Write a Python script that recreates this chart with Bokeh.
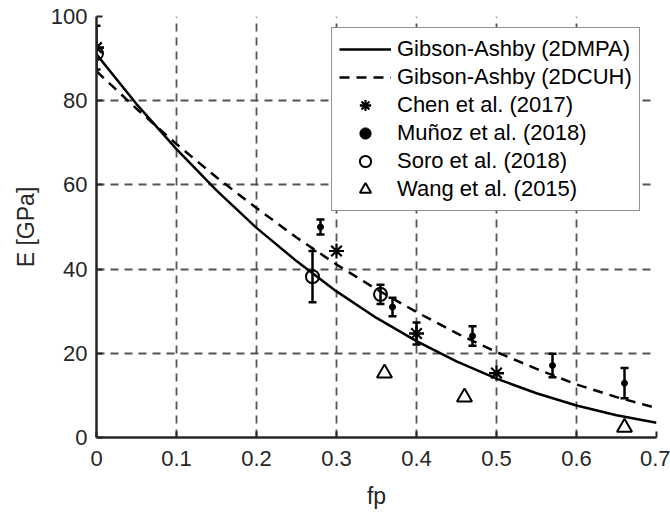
from bokeh.plotting import figure
from bokeh.models import (FixedTicker, Whisker, TeeHead, ColumnDataSource, Legend,
                          LegendItem, Range1d)
from bokeh.embed import file_html
from bokeh.resources import INLINE

# ---- data ----
curve_fp = [0.0, 0.05, 0.10, 0.15, 0.20, 0.25, 0.30, 0.35, 0.40, 0.45, 0.50, 0.55, 0.60, 0.65, 0.70]
mpa_E = [91.0, 79.2, 68.5, 58.7, 49.8, 41.9, 34.7, 28.4, 22.9, 18.1, 14.0, 10.5, 7.6, 5.3, 3.5]
cuh_E = [87.0, 78.1, 69.7, 61.8, 54.5, 47.5, 41.1, 35.2, 29.8, 24.8, 20.3, 16.3, 12.6, 9.6, 7.0]

chen_fp = [0.0, 0.30, 0.40, 0.50]
chen_E = [92.6, 44.3, 24.7, 15.3]
chen_err = [5.2, 0.0, 2.6, 0.0]

munoz_fp = [0.28, 0.37, 0.47, 0.57, 0.66]
munoz_E = [50.0, 31.0, 24.1, 17.1, 12.9]
munoz_err = [1.8, 2.2, 2.3, 2.8, 3.6]

soro_fp = [0.0, 0.27, 0.355]
soro_E = [91.2, 38.2, 34.0]
soro_err = [0.0, 6.1, 2.3]

wang_fp = [0.36, 0.46, 0.66]
wang_E = [15.3, 9.6, 2.4]

x_ticks = [0, 0.1, 0.2, 0.3, 0.4, 0.5, 0.6, 0.7]
x_tick_labels = ["0", "0.1", "0.2", "0.3", "0.4", "0.5", "0.6", "0.7"]
y_ticks = [0, 20, 40, 60, 80, 100]
y_tick_labels = ["0", "20", "40", "60", "80", "100"]

legend_labels = ["Gibson-Ashby (2DMPA)", "Gibson-Ashby (2DCUH)", "Chen et al. (2017)",
                 "Muñoz et al. (2018)", "Soro et al. (2018)", "Wang et al. (2015)"]

FONT = "Liberation Sans"
TXT = "#262626"

p = figure(width=670, height=516, output_backend="svg", toolbar_location=None,
           x_range=Range1d(0, 0.7), y_range=Range1d(0, 100),
           min_border_left=96, min_border_right=14, min_border_top=16, min_border_bottom=79,
           background_fill_color="white", border_fill_color="white")
p.outline_line_color = None

# axes
p.xaxis.ticker = FixedTicker(ticks=x_ticks)
p.yaxis.ticker = FixedTicker(ticks=y_ticks)
p.xaxis.major_label_overrides = dict(zip(x_ticks, x_tick_labels))
p.yaxis.major_label_overrides = dict(zip(y_ticks, y_tick_labels))
for ax in (p.xaxis[0], p.yaxis[0]):
    ax.axis_line_width = 2.5
    ax.axis_line_color = TXT
    ax.major_tick_in = 6
    ax.major_tick_out = 0
    ax.major_tick_line_width = 2
    ax.major_tick_line_color = TXT
    ax.minor_tick_line_color = None
    ax.major_label_text_font = FONT
    ax.major_label_text_font_size = "22px"
    ax.major_label_text_color = TXT
    ax.axis_label_text_font = FONT
    ax.axis_label_text_font_size = "23px"
    ax.axis_label_text_font_style = "normal"
    ax.axis_label_text_color = TXT
p.xaxis.axis_label = "fp"
p.yaxis.axis_label = "E [GPa]"
p.xaxis.major_label_standoff = 13
p.yaxis.major_label_standoff = 9
p.xaxis.axis_label_standoff = 14
p.yaxis.axis_label_standoff = 9

p.grid.grid_line_dash = "8 6"
p.grid.grid_line_color = "#555555"
p.grid.grid_line_width = 1.8

# curves
r_mpa = p.line(curve_fp, mpa_E, line_color="black", line_width=2.5)
r_cuh = p.line(curve_fp, cuh_E, line_color="black", line_width=2.5, line_dash="10 7")

# error bars
def whisker(xs, ys, es):
    xx = [x for x, e in zip(xs, es) if e > 0]
    lo = [y - e for y, e in zip(ys, es) if e > 0]
    hi = [y + e for y, e in zip(ys, es) if e > 0]
    src = ColumnDataSource(dict(x=xx, lower=lo, upper=hi))
    w = Whisker(base="x", lower="lower", upper="upper", source=src, dimension="height",
                line_color="black", line_width=2.5, level="glyph",
                upper_head=TeeHead(size=8, line_width=2.5, line_color="black"),
                lower_head=TeeHead(size=8, line_width=2.5, line_color="black"))
    p.add_layout(w)

whisker(chen_fp, chen_E, chen_err)
whisker(munoz_fp, munoz_E, munoz_err)
whisker(soro_fp, soro_E, soro_err)

# markers
r_chen1 = p.scatter(chen_fp, chen_E, marker="asterisk", size=15, line_color="black", line_width=2.2)
r_chen2 = p.scatter(chen_fp, chen_E, marker="dash", size=15, line_color="black", line_width=2.2)
r_mun = p.scatter(munoz_fp, munoz_E, marker="circle", size=6, fill_color="black", line_color="black")
r_soro = p.scatter(soro_fp, soro_E, marker="circle", size=13, fill_color=None, line_color="black", line_width=2)
r_wang = p.scatter(wang_fp, wang_E, marker="triangle", size=15, fill_color=None, line_color="black", line_width=2)

items = [LegendItem(label=legend_labels[0], renderers=[r_mpa]),
         LegendItem(label=legend_labels[1], renderers=[r_cuh]),
         LegendItem(label=legend_labels[2], renderers=[r_chen1, r_chen2]),
         LegendItem(label=legend_labels[3], renderers=[r_mun]),
         LegendItem(label=legend_labels[4], renderers=[r_soro]),
         LegendItem(label=legend_labels[5], renderers=[r_wang])]
legend = Legend(items=items, location=(235, 226), glyph_width=52, glyph_height=28,
                label_height=28, spacing=0, padding=7, label_standoff=6, margin=0,
                label_text_font=FONT, label_text_font_size="22px", label_text_color="black",
                border_line_color=TXT, border_line_width=1.5, background_fill_color="white",
                background_fill_alpha=1.0)
p.add_layout(legend)

open("out.html", "w").write(file_html(p, INLINE))
